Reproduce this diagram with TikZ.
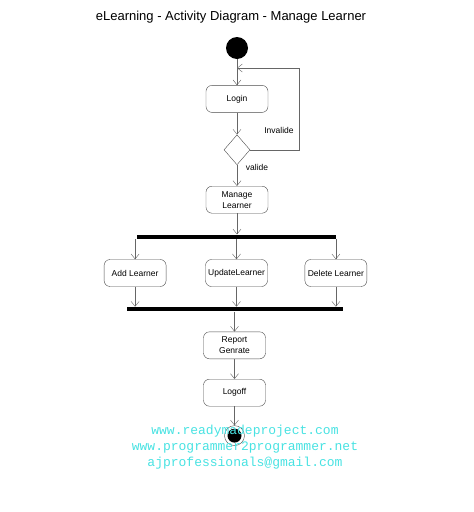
\documentclass[tikz,border=0pt]{standalone}
\usepackage{fontspec}
\setmainfont{Liberation Sans}
\setmonofont{Liberation Mono}
\usepackage{xcolor}
\usetikzlibrary{shapes.geometric, arrows.meta, positioning}
\definecolor{webcyan}{RGB}{72,226,226}

\begin{document}
\begin{tikzpicture}[x=1pt, y=-1pt, node distance=20pt,
    act/.style={draw=black!70, rectangle, rounded corners=6pt, minimum width=62pt, minimum height=27pt, inner sep=2pt, align=center, font=\fontsize{8.5}{11}\selectfont},
    bar/.style={rectangle, fill=black, minimum height=4.5pt, inner sep=0pt},
    flow/.style={draw=black!60, -{Straight Barb[length=5pt,width=8pt]}},
    lbl/.style={font=\fontsize{8.5}{10}\selectfont}]
    \useasboundingbox (0,0) rectangle (474,512);
    \node[font=\fontsize{13}{15}\selectfont] (title) at (231,17) {eLearning - Activity Diagram - Manage Learner};

    \node[circle, fill=black, minimum size=22pt, inner sep=0pt] (start) at (237,48) {};
    \node[act, below=26pt of start] (login) {Login};
    \node[diamond, draw=black!70, minimum width=26pt, minimum height=30pt, inner sep=0pt, below=22pt of login] (check) {};
    \node[act, below=21pt of check] (manage) {Manage\\Learner};
    \node[bar, minimum width=199pt, below=21pt of manage, xshift=-0.5pt] (fork) {};
    \node[act, below=20pt of fork] (upd) {UpdateLearner};
    \node[act, left=39pt of upd] (add) {Add Learner};
    \node[act, right=37pt of upd] (del) {Delete Learner};
    \node[bar, minimum width=216pt, below=20pt of upd, xshift=-2pt] (join) {};
    \node[act, below=20pt of join] (report) {Report\\Genrate};
    \node[act, below=20pt of report] (logoff) {Logoff};
    \node[circle, draw=black!70, fill=white, minimum size=20pt, inner sep=0pt, below=19pt of logoff] (stop) {};
    \node[circle, fill=black, minimum size=14pt, inner sep=0pt] (stopdot) at (stop) {};

    \coordinate (merge) at (237,68);
    \draw[flow] (start) -- (login);
    \draw[flow] (login) -- (check);
    \draw[flow] (check) -- (manage);
    \draw[flow] (check.east) -- ++(49,0) |- (merge);
    \node[lbl] (invlbl) at (279,130) {Invalide};
    \node[lbl] (vlbl) at (257,167) {valide};

    \draw[flow] (manage) -- (manage |- fork.north);
    \draw[flow] (fork.south -| add) -- (add);
    \draw[flow] (fork) -- (upd);
    \draw[flow] (fork.south -| del) -- (del);
    \draw[flow] (add) -- (add |- join.north);
    \draw[flow] (upd) -- (upd |- join.north);
    \draw[flow] (del) -- (del |- join.north);
    \draw[flow] (join) -- (report);
    \draw[flow] (report) -- (logoff);
    \draw[flow] (logoff) -- (stop);

    \node[font=\ttfamily\fontsize{13}{16}\selectfont, text=webcyan, align=center] (web) at (245,447) {www.readymadeproject.com\\www.programmer2programmer.net\\ajprofessionals@gmail.com};
\end{tikzpicture}
\end{document}
